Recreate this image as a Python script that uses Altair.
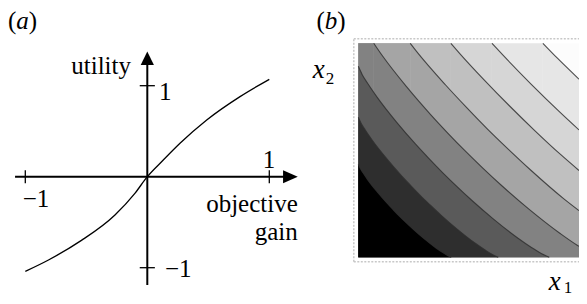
import altair as alt
import pandas as pd

# ---------------- Panel (a): utility vs objective gain ----------------
gain = [-1.0, -0.81, -0.54, -0.265, -0.10, 0.0, 0.131, 0.268, 0.487, 0.76, 1.0]
utility = [-1.04, -0.915, -0.70, -0.42, -0.18, 0.0, 0.183, 0.367, 0.623, 0.88, 1.07]

tick_positions = [-1, 1]

# ---------------- Panel (b): visible parts of the contour lines ----------------
# (x1, x2 in picture units; box is 0..214 high, visible to x1 = 220.7)
c1_x = [0, 1.9, 4.7, 9.3, 18.6, 27.9, 34.4, 41.1, 48.1, 55.1, 65.8, 77.7, 84.5, 89.1, 93]
c1_y = [93, 89.1, 84.5, 77.7, 65.8, 55.1, 48.1, 41.1, 34.4, 27.9, 18.6, 9.3, 4.7, 1.9, 0]
c2_x = [0, 2.8, 7.0, 14.0, 28.0, 42.0, 51.8, 61.9, 72.4, 82.9, 99.1, 117.0, 127.2, 134.1, 140]
c2_y = [140, 134.1, 127.2, 117.0, 99.1, 82.9, 72.4, 61.9, 51.8, 42.0, 28.0, 14.0, 7.0, 2.8, 0]
c3_x = [0, 3.8, 9.6, 19.1, 38.2, 57.3, 70.7, 84.5, 98.7, 113.1, 135.2, 159.7, 173.5, 182.9, 191]
c3_y = [191, 182.9, 173.5, 159.7, 135.2, 113.1, 98.7, 84.5, 70.7, 57.3, 38.2, 19.1, 9.6, 3.8, 0]
c4_x = [15.5, 24.1, 48.2, 72.3, 89.2, 106.6, 124.5, 142.7, 170.6, 201.5, 218.9, 220.7]
c4_y = [214, 201.5, 170.6, 142.7, 124.5, 106.6, 89.2, 72.3, 48.2, 24.1, 12.1, 11.0]
c5_x = [51.9, 58.2, 87.3, 107.7, 128.7, 150.4, 172.3, 205.9, 220.7]
c5_y = [214, 205.9, 172.3, 150.4, 128.7, 107.7, 87.3, 58.2, 46.7]
c6_x = [92.6, 102.6, 126.5, 151.3, 176.7, 202.5, 220.7]
c6_y = [214, 202.5, 176.7, 151.3, 126.5, 102.6, 86.8]
c7_x = [133.6, 144.7, 173.0, 202.1, 220.7]
c7_y = [214, 202.1, 173.0, 144.7, 127.4]
c8_x = [184.6, 199.1, 220.7]
c8_y = [214, 199.1, 178.1]

contours_x = [c1_x, c2_x, c3_x, c4_x, c5_x, c6_x, c7_x, c8_x]
contours_y = [c1_y, c2_y, c3_y, c4_y, c5_y, c6_y, c7_y, c8_y]

band_colors = ["#000000", "#2e2e2e", "#5a5a5a", "#828282", "#a5a5a5",
               "#c0c0c0", "#d6d6d6", "#e6e6e6", "#f2f2f2", "#fcfcfc"]

box_top = 214
box_right = 220.7

SERIF = "Liberation Serif"

# ================= Panel (a) =================
XA = alt.Scale(domain=[-1.1418, 3.5385], nice=False, zero=False)
YA = alt.Scale(domain=[-1.311, 1.8538], nice=False, zero=False)


def exa(f="x"):
    return alt.X(f"{f}:Q", scale=XA, axis=None)


def eya(f="y"):
    return alt.Y(f"{f}:Q", scale=YA, axis=None)


axes_df = pd.DataFrame({"x": [-1.084, 0.0], "x2": [1.16, 0.0],
                        "y": [0.0, -1.19], "y2": [0.0, 1.27]})
axes_a = alt.Chart(axes_df).mark_rule(color="black", strokeWidth=2).encode(
    x=exa(), x2="x2:Q", y=eya(), y2="y2:Q")

ticks_df = pd.DataFrame({
    "x": tick_positions + [-0.062, -0.062],
    "x2": tick_positions + [0.062, 0.062],
    "y": [-0.071, -0.071] + tick_positions,
    "y2": [0.071, 0.071] + tick_positions,
})
ticks_a = alt.Chart(ticks_df).mark_rule(color="black", strokeWidth=1.3).encode(
    x=exa(), x2="x2:Q", y=eya(), y2="y2:Q")

arrow_r = alt.Chart(pd.DataFrame({"x": [1.173], "y": [0.0]})).mark_point(
    shape="M-1,-0.88L1,0L-1,0.88Z", size=216, filled=True, color="black",
    opacity=1, strokeWidth=0).encode(x=exa(), y=eya())
arrow_u = alt.Chart(pd.DataFrame({"x": [0.0], "y": [1.301]})).mark_point(
    shape="M-0.98,1L0,-1L0.98,1Z", size=182, filled=True, color="black",
    opacity=1, strokeWidth=0).encode(x=exa(), y=eya())

curve_a = alt.Chart(pd.DataFrame({"x": gain, "y": utility})).mark_line(
    color="black", strokeWidth=1.3, interpolate="monotone").encode(x=exa(), y=eya())


def texts(df, align, size=25, style="normal"):
    return alt.Chart(df).mark_text(
        font=SERIF, fontSize=size, align=align, baseline="alphabetic",
        fontStyle=style, color="black").encode(x=exa(), y=eya(), text="t:N")


ta_left = texts(pd.DataFrame({"t": ["1", "\u22121", "(", ")"],
                              "x": [0.0959, 0.1451, -1.1418, -0.971],
                              "y": [0.843, -1.102, 1.627, 1.627]}), "left")
ta_center = texts(pd.DataFrame({"t": ["1", "\u22121"],
                                "x": [0.9975, -0.912],
                                "y": [0.0956, -0.333]}), "center")
ta_right = texts(pd.DataFrame({"t": ["utility", "objective", "gain"],
                               "x": [-0.1336, 1.2336, 1.2336],
                               "y": [1.1286, -0.388, -0.696]}), "right")
ta_ital = texts(pd.DataFrame({"t": ["a"], "x": [-1.074], "y": [1.627]}),
                "left", style="italic")

panel_a = alt.layer(axes_a, ticks_a, arrow_r, arrow_u, curve_a,
                    ta_left, ta_center, ta_right, ta_ital)

# ================= Panel (b) =================
XB = alt.Scale(domain=[-350.3, 220.7], nice=False, zero=False)
YB = alt.Scale(domain=[-38.7, 249.3], nice=False, zero=False)


def exb(f="x"):
    return alt.X(f"{f}:Q", scale=XB, axis=None)


def eyb(f="y"):
    return alt.Y(f"{f}:Q", scale=YB, axis=None)


def box_rect(x2, color):
    df = pd.DataFrame({"x": [0], "x2": [x2], "y": [0], "y2": [box_top]})
    return alt.Chart(df).mark_rect(color=color).encode(
        x=exb(), x2="x2:Q", y=eyb(), y2="y2:Q")


layers_b = [box_rect(box_right, band_colors[9])]
for k in range(7, -1, -1):
    xs, ys = contours_x[k], contours_y[k]
    if ys[0] >= box_top:
        layers_b.append(box_rect(xs[0], band_colors[k]))
    df = pd.DataFrame({"x": xs, "y": ys, "y0": [0] * len(xs)})
    layers_b.append(alt.Chart(df).mark_area(
        color=band_colors[k], interpolate="monotone").encode(
        x=exb(), y=eyb(), y2="y0:Q"))
for k in range(8):
    df = pd.DataFrame({"x": contours_x[k], "y": contours_y[k]})
    layers_b.append(alt.Chart(df).mark_line(
        color="#303030", strokeWidth=1.1, interpolate="monotone",
        opacity=0.85).encode(x=exb(), y=eyb()))

frame_df = pd.DataFrame({"x": [-4.5, -4.5, -4.5], "x2": [-4.5, box_right, box_right],
                         "y": [-4.5, 218.5, -4.5], "y2": [218.5, 218.5, -4.5]})
frame = alt.Chart(frame_df).mark_rule(color="#c8c8c8", strokeWidth=1.5,
                                      strokeDash=[2, 1.5]).encode(
    x=exb(), x2="x2:Q", y=eyb(), y2="y2:Q")
layers_b.append(frame)


def textsb(df, size=25, style="normal"):
    return alt.Chart(df).mark_text(
        font=SERIF, fontSize=size, align="left", baseline="alphabetic",
        fontStyle=style, color="black").encode(x=exb(), y=eyb(), text="t:N")


layers_b.append(textsb(pd.DataFrame({"t": ["(", ")"], "x": [-41.8, -21.0],
                                     "y": [228.7, 228.7]})))
layers_b.append(textsb(pd.DataFrame({"t": ["b"], "x": [-33.5], "y": [228.7]}),
                       style="italic"))
layers_b.append(textsb(pd.DataFrame({"t": ["x", "x"], "x": [-45.5, 190.5],
                                     "y": [179.0, -32.5]}), size=27, style="italic"))
layers_b.append(textsb(pd.DataFrame({"t": ["2", "1"], "x": [-32.5, 205.5],
                                     "y": [173.8, -36.0]}), size=17))

panel_b = alt.layer(*layers_b)

chart = alt.layer(panel_a, panel_b).resolve_scale(
    x="independent", y="independent").properties(
    width=571, height=288,
    autosize=alt.AutoSizeParams(type="none"),
    padding=0,
).configure_view(stroke=None)

chart.save("out.html", embed_options={"renderer": "svg", "actions": False})
